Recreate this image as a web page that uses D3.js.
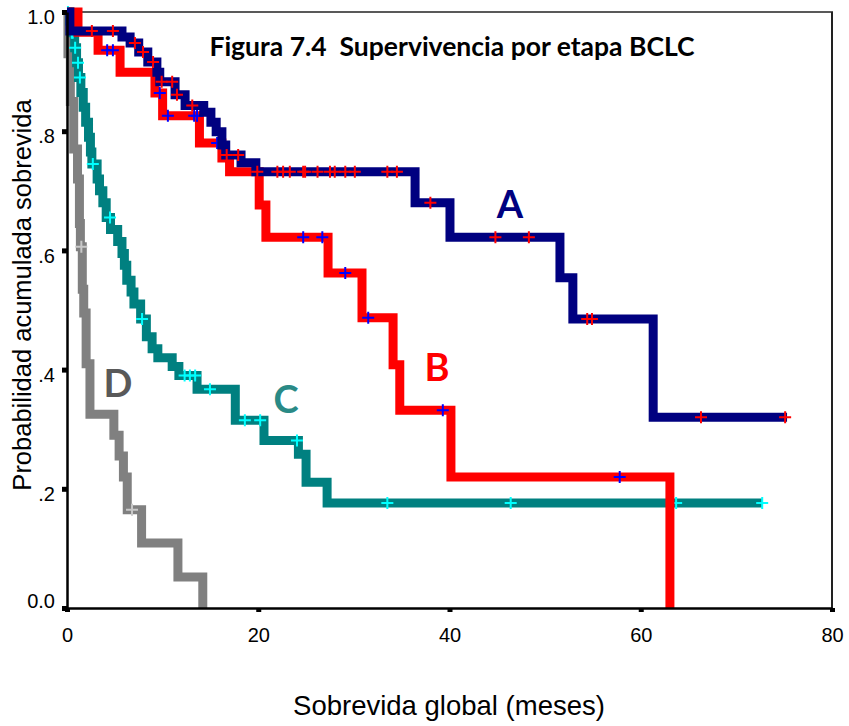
<!DOCTYPE html>
<html>
<head>
<meta charset="utf-8">
<script src="https://cdn.jsdelivr.net/npm/d3@7"></script>
<style>
  body { margin: 0; background: #fff; }
  svg { display: block; }
</style>
</head>
<body>
<svg id="chart" width="849" height="726"></svg>
<script>
// Kaplan-Meier steps: time of each drop (months) and survival after it
var timesA = [0.3, 5.75, 6.6, 7.5, 8.45, 9.4, 9.7, 11.3, 12.35, 14.3, 15.05, 15.6, 16.2, 16.6, 18.2, 19.75, 36.4, 40.05, 51.55, 52.9, 61.3];
var survA  = [0.968, 0.958, 0.948, 0.933, 0.916, 0.899, 0.883, 0.861, 0.843, 0.832, 0.815, 0.799, 0.777, 0.760, 0.747, 0.732, 0.680, 0.622, 0.554, 0.485, 0.320];
var censA  = [2.6, 4.8, 7.1, 7.95, 9.0, 9.9, 11.0, 11.5, 13.1, 16.7, 17.9, 19.9, 22.0, 22.6, 23.3, 24.7, 24.9, 26.2, 27.5, 28.0, 29.1, 30.1, 33.5, 34.5, 38.0, 44.8, 48.3, 54.4, 54.9, 66.3, 75.1];
var endA = 75.3;

var timesB = [1.15, 3.25, 5.55, 9.2, 10.0, 13.85, 16.2, 17.0, 20.1, 20.8, 27.3, 30.85, 34.1, 34.8, 40.15, 63.05];
var survB  = [0.966, 0.936, 0.899, 0.864, 0.826, 0.780, 0.755, 0.732, 0.676, 0.622, 0.562, 0.487, 0.408, 0.332, 0.220, 0];
var censB  = [4.2, 4.8, 9.7, 10.55, 13.3, 13.6, 15.7, 24.7, 26.7, 29.1, 31.5, 39.3, 57.8];
var endB = 63.05;

var timesC = [0.3, 0.5, 0.8, 1.0, 1.2, 1.45, 1.7, 1.95, 2.25, 2.45, 2.6, 3.15, 3.4, 3.75, 4.1, 4.55, 5.3, 5.75, 6.0, 6.25, 6.7, 7.0, 7.7, 8.3, 8.9, 9.5, 11.0, 11.7, 13.6, 17.6, 20.6, 24.2, 25.0, 27.2];
var survC  = [0.985, 0.965, 0.94, 0.915, 0.89, 0.865, 0.84, 0.815, 0.79, 0.765, 0.745, 0.72, 0.70, 0.68, 0.655, 0.635, 0.615, 0.595, 0.575, 0.55, 0.53, 0.51, 0.485, 0.455, 0.435, 0.42, 0.405, 0.39, 0.367, 0.315, 0.281, 0.258, 0.211, 0.176];
var censC  = [0.1, 0.5, 0.6, 0.85, 1.15, 1.35, 2.7, 4.5, 7.85, 12.3, 12.85, 13.4, 14.95, 18.6, 20.2, 24.05, 33.5, 46.4, 63.7, 72.7];
var endC = 72.7;

var timesD = [0.1, 0.35, 0.7, 1.1, 1.3, 1.4, 1.6, 1.75, 2.0, 2.4, 4.9, 5.45, 5.9, 6.3, 7.8, 11.6, 14.2];
var survD  = [0.93, 0.85, 0.77, 0.72, 0.645, 0.606, 0.535, 0.495, 0.41, 0.325, 0.29, 0.255, 0.22, 0.165, 0.109, 0.052, 0];
var censD  = [1.5, 6.8];
var endD = 14.2;

var xTicks = [0, 20, 40, 60, 80];
var yTicks = [0, 0.2, 0.4, 0.6, 0.8, 1.0];
var yTickLabels = ['0.0', '.2', '.4', '.6', '.8', '1.0'];

(function () {
    var svg = d3.select('#chart');

    var x = d3.scaleLinear().domain([0, 80]).range([67, 832]);
    var y = d3.scaleLinear().domain([0, 1]).range([608, 12]);

    var survAt = function (times, surv, t) {
        var s = 1;
        for (var i = 0; i < times.length; i++) {
            if (times[i] <= t) s = surv[i];
        }
        return s;
    };

    var stepPoints = function (times, surv, end) {
        var pts = [[0, 1]];
        times.forEach(function (t, i) { pts.push([t, surv[i]]); });
        if (end > times[times.length - 1]) pts.push([end, surv[surv.length - 1]]);
        return pts;
    };

    var line = d3.line()
        .x(function (d) { return x(d[0]); })
        .y(function (d) { return y(d[1]); })
        .curve(d3.curveStepAfter);

    var series = [
        { times: timesD, surv: survD, cens: censD, end: endD, color: '#808080', mark: '#c8c8c8', width: 9 },
        { times: timesC, surv: survC, cens: censC, end: endC, color: '#008080', mark: '#00ffff', width: 9 },
        { times: timesB, surv: survB, cens: censB, end: endB, color: '#ff0000', mark: '#0000ff', width: 9 },
        { times: timesA, surv: survA, cens: censA, end: endA, color: '#000080', mark: '#ff0000', width: 9 }
    ];

    // frame (top and right)
    svg.append('line').attr('x1', 67).attr('x2', 833).attr('y1', 12).attr('y2', 12)
        .attr('stroke', '#222').attr('stroke-width', 1.5);
    svg.append('line').attr('x1', 832).attr('x2', 832).attr('y1', 12).attr('y2', 609)
        .attr('stroke', '#222').attr('stroke-width', 2);

    series.forEach(function (s) {
        var g = svg.append('g');
        g.append('path')
            .attr('d', line(stepPoints(s.times, s.surv, s.end)))
            .attr('fill', 'none')
            .attr('stroke', s.color)
            .attr('stroke-width', s.width)
            .attr('stroke-linejoin', 'miter')
            .attr('stroke-linecap', 'butt');

        s.cens.forEach(function (t) {
            var cx = x(t), cy = y(survAt(s.times, s.surv, t));
            g.append('path')
                .attr('d', 'M' + (cx - 6) + ',' + cy + 'H' + (cx + 6) + 'M' + cx + ',' + (cy - 6) + 'V' + (cy + 6))
                .attr('stroke', s.mark)
                .attr('stroke-width', 2)
                .attr('fill', 'none');
        });
    });

    // axes
    var yAxis = svg.append('g')
        .attr('transform', 'translate(67,0)')
        .call(d3.axisLeft(y)
            .tickValues(yTicks)
            .tickFormat(function (d, i) { return yTickLabels[i]; })
            .tickSizeInner(5).tickSizeOuter(0).tickPadding(7));

    var xAxis = svg.append('g')
        .attr('transform', 'translate(0,608)')
        .call(d3.axisBottom(x)
            .tickValues(xTicks)
            .tickSizeInner(4).tickSizeOuter(0).tickPadding(16));

    [yAxis, xAxis].forEach(function (ax) {
        ax.select('.domain').attr('stroke', '#000').attr('stroke-width', 2.5);
        ax.selectAll('.tick line').attr('stroke', '#000').attr('stroke-width', 5);
        ax.selectAll('.tick text')
            .attr('fill', '#000')
            .style('font-family', '"Liberation Sans", Arial, sans-serif')
            .style('font-size', '20px');
    });

    // SPSS sets the y labels a little below their ticks, except the bottom one
    yAxis.selectAll('.tick text')
        .attr('dy', function (d) { return d === 0 ? '-0.03em' : '0.58em'; });

    // title
    svg.append('text')
        .attr('x', 452).attr('y', 56)
        .attr('text-anchor', 'middle')
        .style('white-space', 'pre')
        .style('font-family', 'Lato, "Open Sans", sans-serif')
        .style('font-weight', 'bold')
        .style('font-size', '26.5px')
        .attr('fill', '#000')
        .text('Figura 7.4  Supervivencia por etapa BCLC');

    // curve letters
    var letters = [
        { t: 'A', x: 510, y: 218, c: '#000080' },
        { t: 'B', x: 437, y: 381, c: '#ff0000' },
        { t: 'C', x: 286, y: 413, c: '#2a8a86' },
        { t: 'D', x: 118, y: 397, c: '#595959' }
    ];
    svg.selectAll('.letter').data(letters).enter().append('text')
        .attr('x', function (d) { return d.x; })
        .attr('y', function (d) { return d.y; })
        .attr('text-anchor', 'middle')
        .style('font-family', 'Lato, "Open Sans", sans-serif')
        .style('font-weight', 'bold')
        .style('font-size', '38px')
        .attr('fill', function (d) { return d.c; })
        .text(function (d) { return d.t; });

    // axis titles
    svg.append('text')
        .attr('x', 449).attr('y', 715)
        .attr('text-anchor', 'middle')
        .style('font-family', '"Liberation Sans", Arial, sans-serif')
        .style('font-size', '27.5px')
        .attr('fill', '#000')
        .text('Sobrevida global (meses)');

    svg.append('text')
        .attr('transform', 'translate(31,295) rotate(-90)')
        .attr('text-anchor', 'middle')
        .style('font-family', '"Liberation Sans", Arial, sans-serif')
        .style('font-size', '25.5px')
        .attr('fill', '#000')
        .text('Probabilidad acumulada sobrevida');
})();
</script>
</body>
</html>
